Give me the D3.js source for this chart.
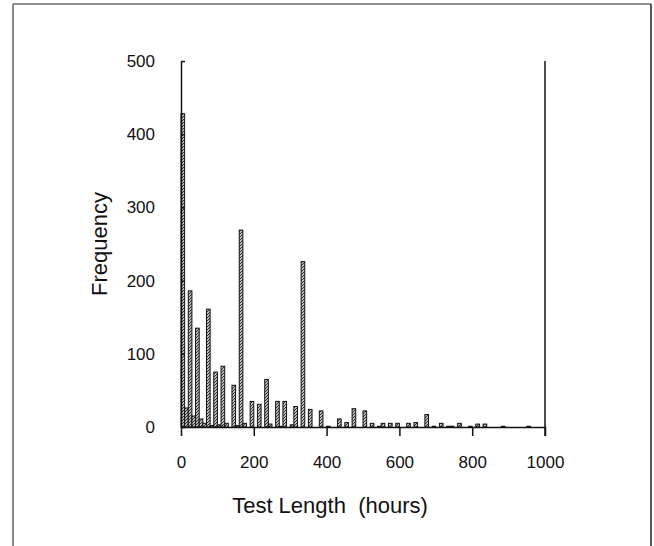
<!DOCTYPE html>
<html lang="en">
  <head>
    <meta charset="UTF-8" />
    <title>Test Length Histogram</title>
    <script src="https://d3js.org/d3.v7.min.js"></script>
    <style>
      body {
        margin: 0;
        background: #fff;
        font-family: "Liberation Sans", Arial, sans-serif;
      }
      .tick text {
        font-size: 17px;
        fill: #111;
      }
    </style>
  </head>
  <body>
    <script>
      // 10-hour bins: start of bin (hours) and how many tests fell in it
      const binStart = [
        0, 10, 20, 30, 40, 50, 60, 70, 80, 90, 100, 110, 120, 140, 150, 160,
        170, 190, 210, 230, 240, 260, 270, 280, 300, 310, 330, 350, 380, 400,
        430, 450, 470, 500, 520, 540, 550, 570, 590, 620, 640, 670, 690, 710,
        730, 740, 760, 790, 810, 830, 880, 950,
      ];
      const freq = [
        428, 26, 186, 15, 135, 11, 5, 161, 2, 75, 3, 83, 5, 57, 2, 269, 5, 35,
        31, 65, 4, 35, 1, 35, 3, 28, 226, 24, 22, 1, 11, 6, 25, 22, 5, 1, 5, 5,
        5, 5, 6, 17, 1, 5, 1, 1, 5, 1, 4, 4, 1, 1,
      ];
      const binWidth = 10;
      const xTicks = [0, 200, 400, 600, 800, 1000];
      const yTicks = [0, 100, 200, 300, 400, 500];

      const width = 654;
      const height = 546;
      const svg = d3
        .select("body")
        .append("svg")
        .attr("width", width)
        .attr("height", height);

      // hatch fill for the bars
      const pattern = svg
        .append("defs")
        .append("pattern")
        .attr("id", "hatch")
        .attr("patternUnits", "userSpaceOnUse")
        .attr("width", 3)
        .attr("height", 3);
      pattern.append("rect").attr("width", 3).attr("height", 3).attr("fill", "#fff");
      pattern
        .append("path")
        .attr("d", "M-1,1 l2,-2 M0,3 l3,-3 M2,4 l2,-2")
        .attr("stroke", "#222")
        .attr("stroke-width", 1.1);

      // outer frame
      svg.append("line").attr("x1", 13).attr("y1", 4).attr("x2", 651).attr("y2", 4)
        .attr("stroke", "#222").attr("stroke-width", 1);
      svg.append("line").attr("x1", 13).attr("y1", 4).attr("x2", 13).attr("y2", height)
        .attr("stroke", "#888").attr("stroke-width", 2);
      svg.append("line").attr("x1", 651).attr("y1", 4).attr("x2", 651).attr("y2", height)
        .attr("stroke", "#555").attr("stroke-width", 2);

      const x = d3.scaleLinear().domain([0, 1000]).range([181, 545]);
      const y = d3.scaleLinear().domain([0, 500]).range([427, 61]);

      // bars
      svg
        .append("g")
        .selectAll("rect")
        .data(binStart.map((s, i) => ({ s: s, v: freq[i] })))
        .join("rect")
        .attr("x", (d) => x(d.s))
        .attr("y", (d) => y(d.v))
        .attr("width", x(binWidth) - x(0))
        .attr("height", (d) => y(0) - y(d.v))
        .attr("fill", "url(#hatch)")
        .attr("stroke", "#111")
        .attr("stroke-width", 1);

      // axes
      const xAxis = svg
        .append("g")
        .attr("transform", `translate(0,${y(0)})`)
        .call(
          d3.axisBottom(x).tickValues(xTicks).tickFormat(d3.format("d"))
            .tickSize(9).tickPadding(20).tickSizeOuter(0)
        );
      const yAxis = svg
        .append("g")
        .attr("transform", `translate(${x(0)},0)`)
        .call(
          d3.axisLeft(y).tickValues(yTicks).tickFormat(d3.format("d"))
            .tickSize(-4).tickPadding(26).tickSizeOuter(0)
        );
      svg
        .append("line")
        .attr("x1", x(1000))
        .attr("x2", x(1000))
        .attr("y1", y(500))
        .attr("y2", y(0) + 9)
        .attr("stroke", "#111")
        .attr("stroke-width", 1.5);
      [xAxis, yAxis].forEach((g) => {
        g.selectAll(".domain").attr("stroke", "#111").attr("stroke-width", 1.5);
        g.selectAll(".tick line").attr("stroke", "#111").attr("stroke-width", 1.5);
      });

      // axis titles
      svg
        .append("text")
        .attr("x", 330)
        .attr("y", 513)
        .attr("text-anchor", "middle")
        .attr("font-size", 22)
        .attr("fill", "#111")
        .attr("xml:space", "preserve")
        .text("Test Length  (hours)");
      svg
        .append("text")
        .attr("transform", "translate(107,244) rotate(-90)")
        .attr("text-anchor", "middle")
        .attr("font-size", 22)
        .attr("fill", "#111")
        .text("Frequency");
    </script>
  </body>
</html>
